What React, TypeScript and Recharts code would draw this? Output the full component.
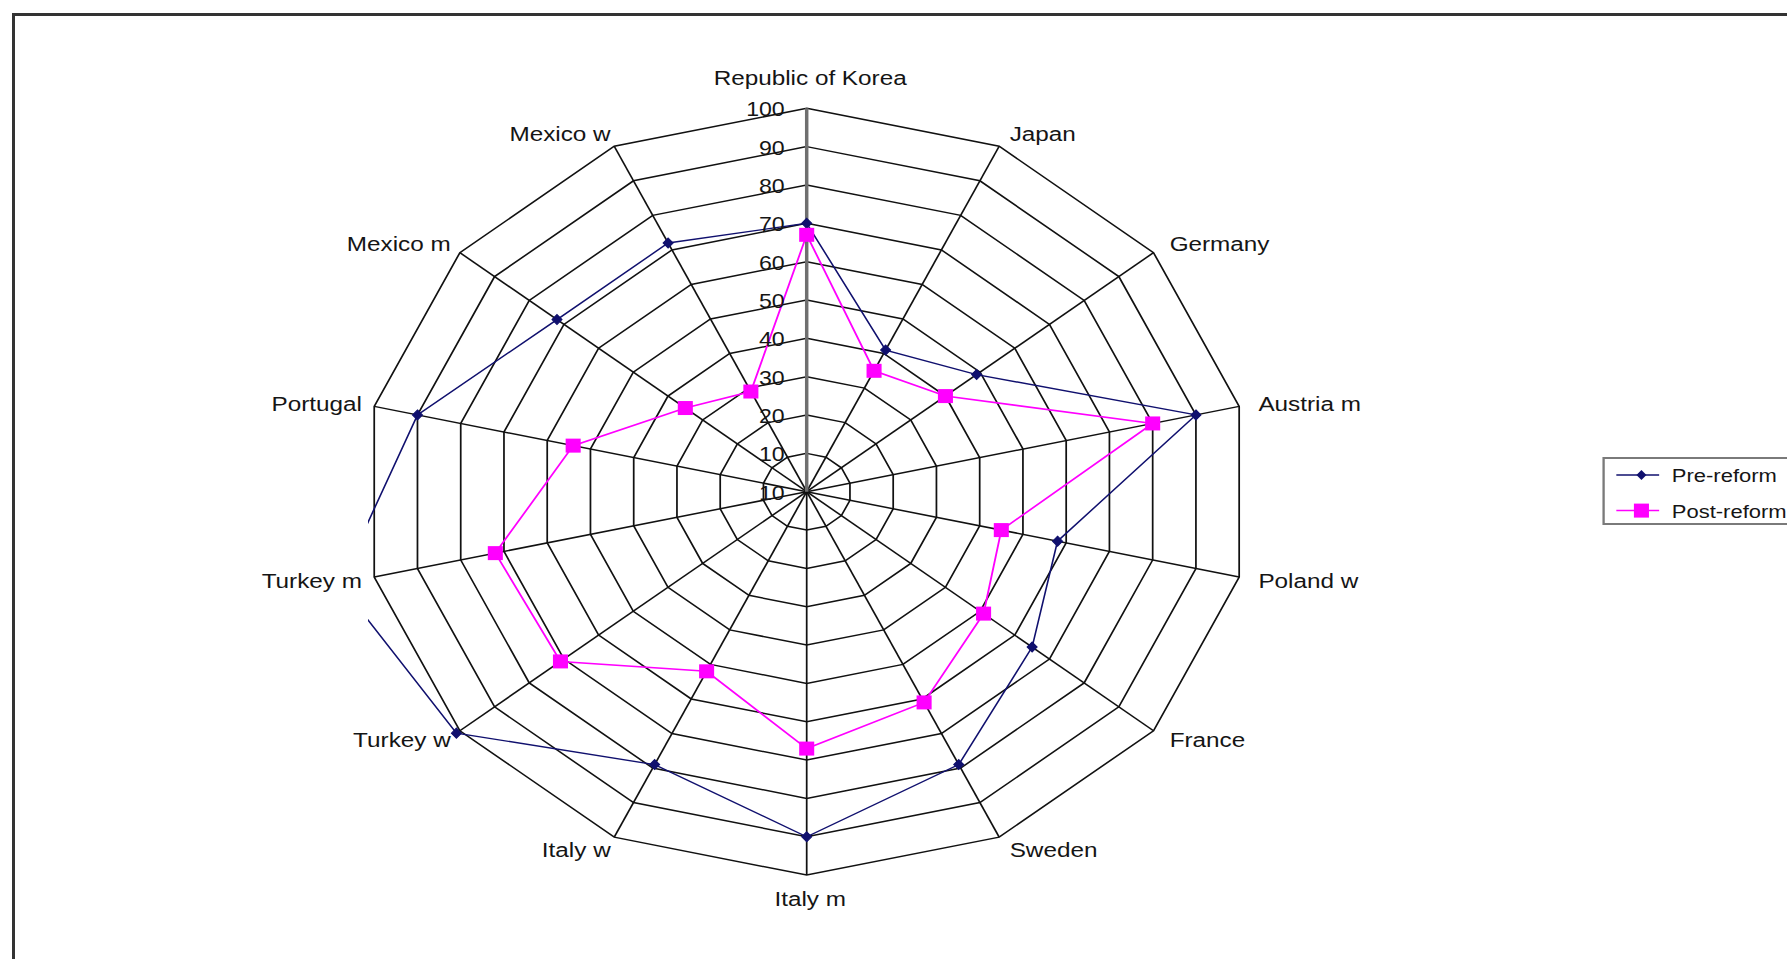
import React from 'react';
import { RadarChart, Radar, PolarGrid, PolarAngleAxis, PolarRadiusAxis, Legend } from 'recharts';

// ---- data ----
const countries = [
  'Republic of Korea', 'Japan', 'Germany', 'Austria m', 'Poland w', 'France', 'Sweden',
  'Italy m', 'Italy w', 'Turkey w', 'Turkey m', 'Portugal', 'Mexico m', 'Mexico w',
];
const preReform = [70, 41, 49, 90, 58, 65, 79, 90, 79, 101, 108, 90, 72, 72];
const postReform = [67, 35, 40, 80, 45, 51, 61, 67, 52, 71, 72, 54, 35, 29];
const radiusTicks = [0, 10, 20, 30, 40, 50, 60, 70, 80, 90, 100];
const radiusTickLabels = ['10', '10', '20', '30', '40', '50', '60', '70', '80', '90', '100'];
const seriesNames = ['Pre-reform', 'Post-reform'];
const seriesColors = ['#10106e', '#ff00ff'];

const data = countries.map((c, i) => ({ country: c, pre: preReform[i], post: postReform[i] }));

// ---- layout ----
const SX = 1.157; // horizontal stretch of the original picture
const CX = 806.7 / SX;
const CY = 491.7;
const R = 383.4;
const PLOT_LEFT = 368 / SX; // plot-area clip edge
const FONT = '"Liberation Sans", Arial, sans-serif';

const AngleTick = (props: any) => {
  const { x, y, textAnchor, payload } = props;
  let dy = 0;
  if (textAnchor === 'middle') dy = y < CY ? -17 : 10;
  return (
    <text x={x + 3} y={y + dy} textAnchor={textAnchor} dominantBaseline="central"
      fontSize={21} fontFamily={FONT} fill="#151515">
      {payload.value}
    </text>
  );
};

const RadiusTick = (props: any) => {
  const { x, y, payload } = props;
  const idx = radiusTicks.indexOf(payload.value);
  return (
    <text x={x - 19} y={y + 1} textAnchor="end" dominantBaseline="central"
      fontSize={20} fontFamily={FONT} fill="#151515">
      {idx >= 0 ? radiusTickLabels[idx] : payload.value}
    </text>
  );
};

const getVal = (p: any) => (p.value !== undefined ? p.value : p.payload && p.payload.value);

const PreDot = (props: any) => {
  const { cx, cy } = props;
  const v = Number(getVal(props));
  if (cx == null || cy == null || v > 105) return <g key={props.key} />;
  return (
    <path key={props.key}
      d={`M${cx},${cy - 5} L${cx + 4.3},${cy} L${cx},${cy + 5} L${cx - 4.3},${cy} Z`}
      fill={seriesColors[0]} stroke={seriesColors[0]} strokeWidth={1} />
  );
};

const PostDot = (props: any) => {
  const { cx, cy } = props;
  if (cx == null || cy == null) return <g key={props.key} />;
  return <rect key={props.key} x={cx - 6.5} y={cy - 7} width={13} height={14} fill={seriesColors[1]} />;
};

const makeClippedShape = (id: string, color: string, width: number) => (props: any) => {
  const pts = (props.points || []) as any[];
  if (!pts.length) return <g />;
  const d = 'M' + pts.map((p) => `${p.x},${p.y}`).join('L') + 'Z';
  return (
    <g>
      <defs>
        <clipPath id={id}>
          <rect x={PLOT_LEFT} y={0} width={2000} height={959} />
        </clipPath>
      </defs>
      <path d={d} fill="none" stroke={color} strokeWidth={width} clipPath={`url(#${id})`} />
    </g>
  );
};

const PreShape = makeClippedShape('clip-pre', seriesColors[0], 1.4);
const PostShape = makeClippedShape('clip-post', seriesColors[1], 1.6);

const renderLegend = () => (
  <div style={{ boxSizing: 'border-box', width: 220, height: 68, border: '2px solid #7a7a7a', background: '#fff' }}>
    <svg width={216} height={64} style={{ display: 'block' }}>
      <line x1={10} y1={16} x2={47} y2={16} stroke={seriesColors[0]} strokeWidth={1.5} />
      <path d="M31.7,11 L36,16 L31.7,21 L27.4,16 Z" fill={seriesColors[0]} />
      <text x={58} y={16} dominantBaseline="central" fontSize={19} fontFamily={FONT} fill="#151515">{seriesNames[0]}</text>
      <line x1={10} y1={51.6} x2={47} y2={51.6} stroke={seriesColors[1]} strokeWidth={1.5} />
      <rect x={25.2} y={44.6} width={13} height={14} fill={seriesColors[1]} />
      <text x={58} y={51.6} dominantBaseline="central" fontSize={19} fontFamily={FONT} fill="#151515">{seriesNames[1]}</text>
    </svg>
  </div>
);

export default function App() {
  return (
    <div style={{ position: 'absolute', left: 0, top: 0, width: 1787, height: 959, overflow: 'hidden', background: '#fff' }}>
      <div style={{ position: 'absolute', left: 12, top: 13, width: 1900, height: 1100, border: '3px solid #333' }} />
      <div style={{ position: 'absolute', left: 0, top: 0, width: 1650, height: 959, transform: `scaleX(${SX})`, transformOrigin: '0 0' }}>
        <RadarChart width={1650} height={959} data={data} cx={CX} cy={CY} outerRadius={R}
          startAngle={90} endAngle={-270} margin={{ top: 0, right: 0, bottom: 0, left: 0 }}>
          <PolarGrid gridType="polygon" stroke="#111" strokeWidth={1.5} />
          <PolarAngleAxis dataKey="country" axisLine={false} tickLine={false} tickSize={14} tick={AngleTick} />
          <PolarRadiusAxis angle={90} type="number" domain={[0, 100]} allowDataOverflow ticks={radiusTicks}
            tickCount={11} axisLine={{ stroke: '#6f6f6f', strokeWidth: 3 }} tickLine={false} tick={RadiusTick} />
          <Radar name={seriesNames[0]} dataKey="pre" stroke={seriesColors[0]} strokeWidth={1.4}
            fill="none" fillOpacity={0} dot={PreDot} shape={PreShape} isAnimationActive={false} />
          <Radar name={seriesNames[1]} dataKey="post" stroke={seriesColors[1]} strokeWidth={1.6}
            fill="none" fillOpacity={0} dot={PostDot} shape={PostShape} isAnimationActive={false} />
          <Legend content={renderLegend}
            wrapperStyle={{ position: 'absolute', left: 1384.6, top: 457, width: 220, height: 68 }} />
        </RadarChart>
      </div>
    </div>
  );
}
